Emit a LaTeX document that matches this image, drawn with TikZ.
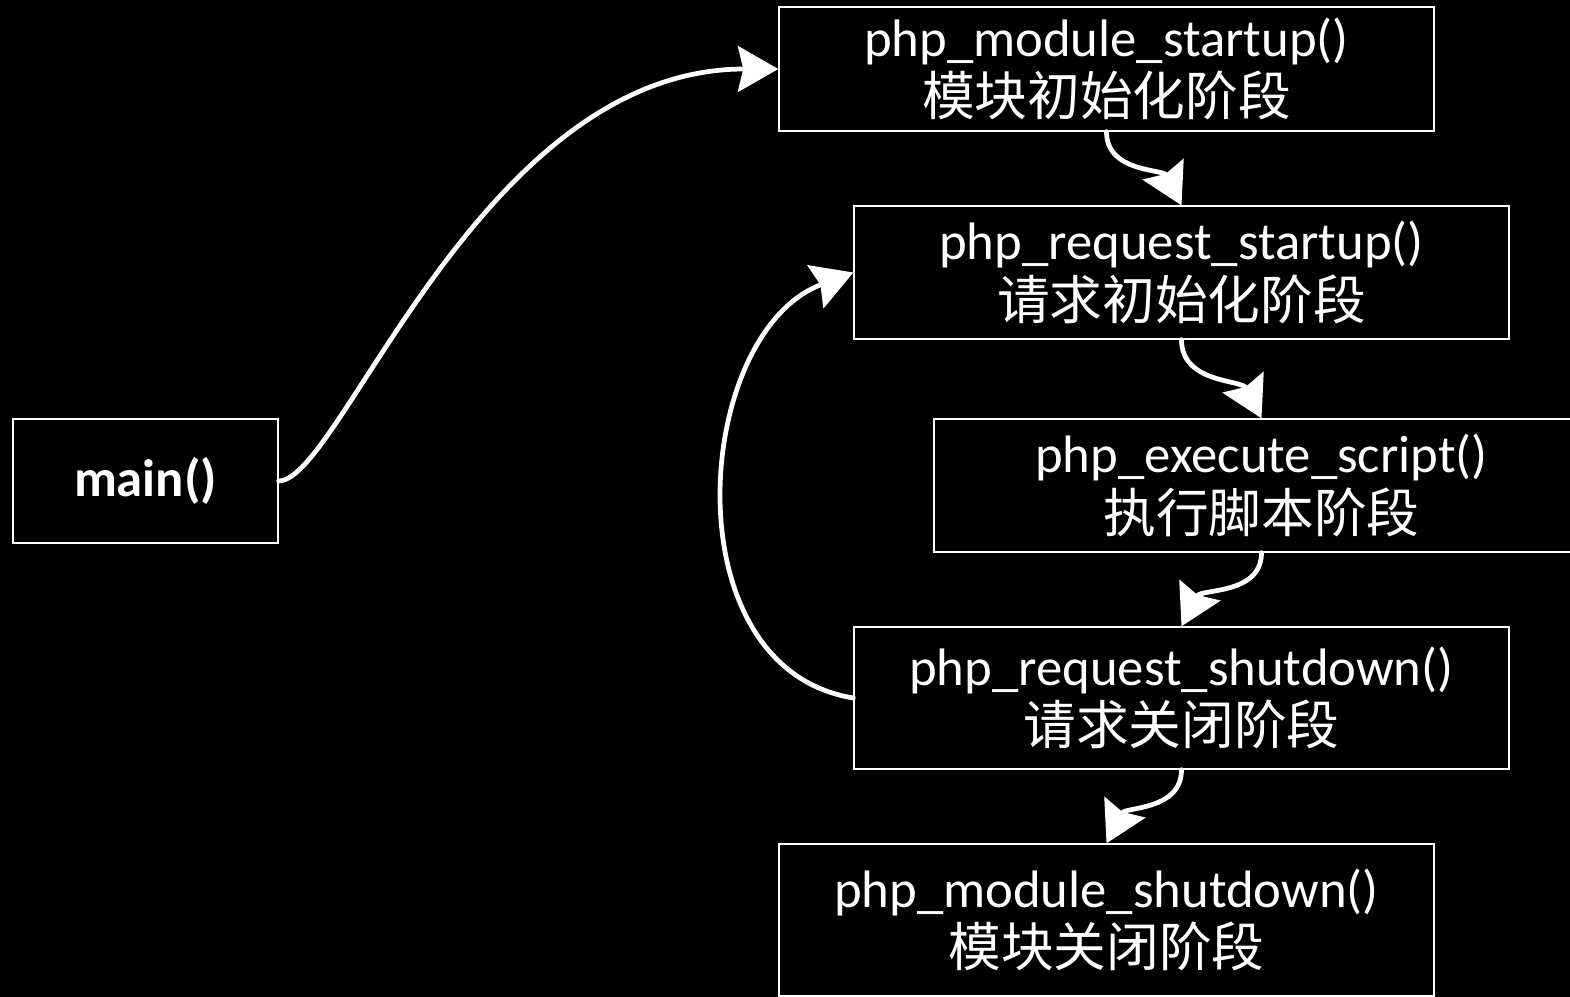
\documentclass[tikz,border=0pt]{standalone}
\usepackage{fontspec}
\setmainfont{Carlito}
\newfontfamily\cjk{Noto Sans CJK SC}
\usetikzlibrary{arrows.meta}

\begin{document}
\begin{tikzpicture}[x=0.02cm, y=-0.02cm,
  stage/.style={draw=white, line width=0.8pt, text=white, align=center,
    inner sep=0pt, minimum width=13.1cm, font=\fontsize{30}{34}\selectfont},
  flow/.style={draw=white, line width=2.7pt, line cap=round,
    -{Stealth[length=23pt, width=26pt, inset=3pt]}}
]
  \useasboundingbox (0,0) rectangle (1570,997);
  \clip (0,0) rectangle (1570,997);
  \fill[black] (0,0) rectangle (1570,997);

  % lifecycle stages
  \node[stage, minimum width=5.3cm, minimum height=2.48cm, font=\fontsize{30}{34}\selectfont\bfseries]
    (main) at (145.5,481) {main()};
  \node[stage, minimum height=2.48cm] (mstart) at (1106.5,69)
    {php\_module\_startup()\\{\cjk 模块初始化阶段}};
  \node[stage, minimum height=2.66cm] (rstart) at (1181.5,272.5)
    {php\_request\_startup()\\{\cjk 请求初始化阶段}};
  \node[stage, minimum height=2.66cm] (exec) at (1261.5,485.5)
    {php\_execute\_script()\\{\cjk 执行脚本阶段}};
  \node[stage, minimum height=2.84cm] (rshut) at (1181.5,698)
    {php\_request\_shutdown()\\{\cjk 请求关闭阶段}};
  \node[stage, minimum height=3.04cm] (mshut) at (1106.5,920)
    {php\_module\_shutdown()\\{\cjk 模块关闭阶段}};

  % calls
  \draw[flow] (main.east) .. controls +(62,0) and +(-299,0) .. (mstart.west);
  \draw[flow] (mstart.south) to[out=-90, in=117] (rstart.north);
  \draw[flow] (rstart.south) to[out=-90, in=117] (exec.north);
  \draw[flow] (exec.south) to[out=-90, in=63] (rshut.north);
  \draw[flow] (rshut.south) to[out=-90, in=63] (mshut.north);
  % next request
  \draw[flow] (rshut.west) .. controls +(-185,-30) and +(-160,60) .. (rstart.west);
\end{tikzpicture}
\end{document}
